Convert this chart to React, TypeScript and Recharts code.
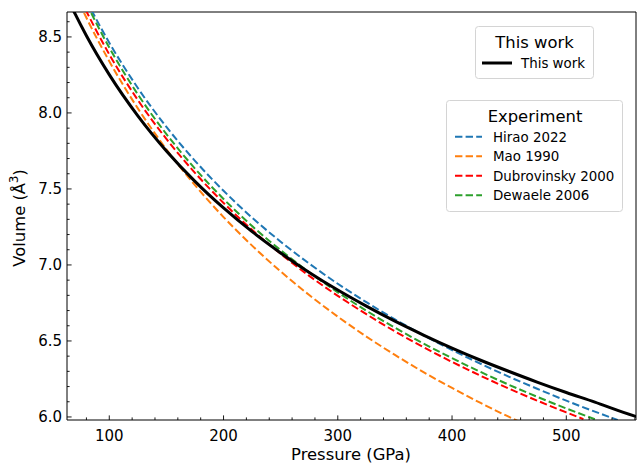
import { LineChart, Line, XAxis, YAxis, ReferenceLine } from "recharts";

// pressure (GPa) / volume (A^3)
const P_WORK = [60, 70, 80, 100, 125, 150, 175, 200, 225, 250, 275, 300, 325, 350, 375, 400, 425, 450, 475, 500, 525, 550, 575];
const V_WORK = [8.812, 8.653, 8.508, 8.252, 7.981, 7.75, 7.55, 7.375, 7.219, 7.079, 6.951, 6.835, 6.729, 6.63, 6.539, 6.453, 6.373, 6.299, 6.228, 6.161, 6.098, 6.03, 5.97];

const P_HIRAO = [80, 100, 125, 150, 175, 200, 225, 250, 275, 300, 325, 350, 375, 400, 425, 450, 475, 500, 525, 545];
const V_HIRAO = [8.739, 8.462, 8.164, 7.908, 7.685, 7.488, 7.311, 7.153, 7.009, 6.876, 6.755, 6.642, 6.538, 6.44, 6.35, 6.264, 6.184, 6.107, 6.035, 5.98];

const P_MAO = [70, 80, 100, 125, 150, 175, 200, 225, 250, 275, 300, 325, 350, 375, 400, 425, 450, 460];
const V_MAO = [8.785, 8.626, 8.34, 8.03, 7.761, 7.525, 7.315, 7.127, 6.957, 6.802, 6.66, 6.529, 6.408, 6.295, 6.191, 6.092, 6.0, 5.965];

const P_DUB = [75, 100, 125, 150, 175, 200, 225, 250, 275, 300, 325, 350, 375, 400, 425, 450, 475, 500, 515];
const V_DUB = [8.742, 8.385, 8.085, 7.829, 7.606, 7.408, 7.231, 7.073, 6.928, 6.797, 6.676, 6.563, 6.459, 6.362, 6.271, 6.186, 6.106, 6.03, 5.986];

const P_DEW = [80, 100, 125, 150, 175, 200, 225, 250, 275, 300, 325, 350, 375, 400, 425, 450, 475, 500, 525];
const V_DEW = [8.719, 8.43, 8.122, 7.861, 7.634, 7.434, 7.256, 7.097, 6.952, 6.82, 6.699, 6.587, 6.483, 6.387, 6.296, 6.211, 6.131, 6.056, 5.985];

const X_TICKS = [80, 100, 120, 140, 160, 180, 200, 220, 240, 260, 280, 300, 320, 340, 360, 380, 400, 420, 440, 460, 480, 500, 520, 540, 560];
const Y_TICKS = [6.0, 6.1, 6.2, 6.3, 6.4, 6.5, 6.6, 6.7, 6.8, 6.9, 7.0, 7.1, 7.2, 7.3, 7.4, 7.5, 7.6, 7.7, 7.8, 7.9, 8.0, 8.1, 8.2, 8.3, 8.4, 8.5, 8.6];

const X_DOMAIN = [63, 561];
const Y_DOMAIN = [5.98, 8.664];

const FONT = "DejaVu Sans";

const toRows = (p: number[], v: number[]) => p.map((x, i) => ({ p: x, v: v[i] }));

const EXPERIMENTS = [
  { name: "Hirao 2022", color: "#1f77b4", data: toRows(P_HIRAO, V_HIRAO) },
  { name: "Mao 1990", color: "#ff7f0e", data: toRows(P_MAO, V_MAO) },
  { name: "Dubrovinsky 2000", color: "#ff0000", data: toRows(P_DUB, V_DUB) },
  { name: "Dewaele 2006", color: "#2ca02c", data: toRows(P_DEW, V_DEW) },
];
const WORK = toRows(P_WORK, V_WORK);

const XTick = (props: any) => {
  const { x, y, payload } = props;
  const major = payload.value % 100 === 0;
  return (
    <g>
      <line x1={x} x2={x} y1={y} y2={y - (major ? 4.6 : 2.6)} stroke="#000" strokeWidth={0.9} />
      {major && (
        <text x={x} y={y + 21} textAnchor="middle" fontSize={15} fontFamily={FONT} fill="#000">
          {payload.value}
        </text>
      )}
    </g>
  );
};

const YTick = (props: any) => {
  const { x, y, payload } = props;
  const major = Math.round(payload.value * 10) % 5 === 0;
  return (
    <g>
      <line x1={x} x2={x + (major ? 4.6 : 2.6)} y1={y} y2={y} stroke="#000" strokeWidth={0.9} />
      {major && (
        <text x={x - 5} y={y + 5.4} textAnchor="end" fontSize={15} fontFamily={FONT} fill="#000">
          {payload.value.toFixed(1)}
        </text>
      )}
    </g>
  );
};

const Legends = () => (
  <svg
    width={637}
    height={464}
    style={{ position: "absolute", left: 0, top: 0, pointerEvents: "none" }}
    fontFamily={FONT}
  >
    <text x={351} y={460} textAnchor="middle" fontSize={16.4} fill="#000">
      Pressure (GPa)
    </text>
    <text x={25} y={218} textAnchor="middle" fontSize={16.4} fill="#000" transform="rotate(-90 25 218)">
      Volume (Å<tspan fontSize={11.5} dy={-7}>3</tspan>
      <tspan dy={7}>)</tspan>
    </text>

    <rect x={475.5} y={26.5} width={118} height={52} rx={3} fill="#fff" fillOpacity={0.8} stroke="#d4d4d4" />
    <text x={534.5} y={47.5} textAnchor="middle" fontSize={16.4} fill="#000">
      This work
    </text>
    <line x1={482} x2={512} y1={63} y2={63} stroke="#000" strokeWidth={3} />
    <text x={521} y={67.8} fontSize={13.4} fill="#000">
      This work
    </text>

    <rect x={446.5} y={100.5} width={176} height={111} rx={3} fill="#fff" fillOpacity={0.8} stroke="#d4d4d4" />
    <text x={535} y={121.7} textAnchor="middle" fontSize={16.4} fill="#000">
      Experiment
    </text>
    {EXPERIMENTS.map((s, i) => (
      <g key={s.name}>
        <line
          x1={455}
          x2={482}
          y1={136.7 + i * 19.5}
          y2={136.7 + i * 19.5}
          stroke={s.color}
          strokeWidth={2}
          strokeDasharray="7.4 3.2"
        />
        <text x={493} y={141.5 + i * 19.5} fontSize={13.4} fill="#000">
          {s.name}
        </text>
      </g>
    ))}
  </svg>
);

export default function App() {
  return (
    <div style={{ position: "absolute", left: 0, top: 0, width: 637, height: 464, background: "#fff" }}>
      <LineChart width={637} height={464} margin={{ top: 12, right: 1, bottom: 0, left: 0 }}>
        <XAxis
          type="number"
          dataKey="p"
          domain={X_DOMAIN}
          allowDataOverflow
          ticks={X_TICKS}
          interval={0}
          tickSize={0}
          tickMargin={0}
          tickLine={false}
          tick={<XTick />}
          axisLine={{ stroke: "#000", strokeWidth: 1 }}
          height={44}
        />
        <YAxis
          type="number"
          dataKey="v"
          domain={Y_DOMAIN}
          allowDataOverflow
          ticks={Y_TICKS}
          interval={0}
          tickSize={0}
          tickMargin={0}
          tickLine={false}
          tick={<YTick />}
          axisLine={{ stroke: "#000", strokeWidth: 1 }}
          width={67}
        />
        <ReferenceLine y={Y_DOMAIN[1]} stroke="#000" strokeWidth={1} />
        <ReferenceLine x={X_DOMAIN[1]} stroke="#000" strokeWidth={1} />
        {EXPERIMENTS.map((s) => (
          <Line
            key={s.name}
            data={s.data}
            dataKey="v"
            type="monotone"
            stroke={s.color}
            strokeWidth={2}
            strokeDasharray="7.4 3.2"
            dot={false}
            activeDot={false}
            isAnimationActive={false}
          />
        ))}
        <Line
          data={WORK}
          dataKey="v"
          type="monotone"
          stroke="#000"
          strokeWidth={3}
          dot={false}
          activeDot={false}
          isAnimationActive={false}
        />
      </LineChart>
      <Legends />
    </div>
  );
}
